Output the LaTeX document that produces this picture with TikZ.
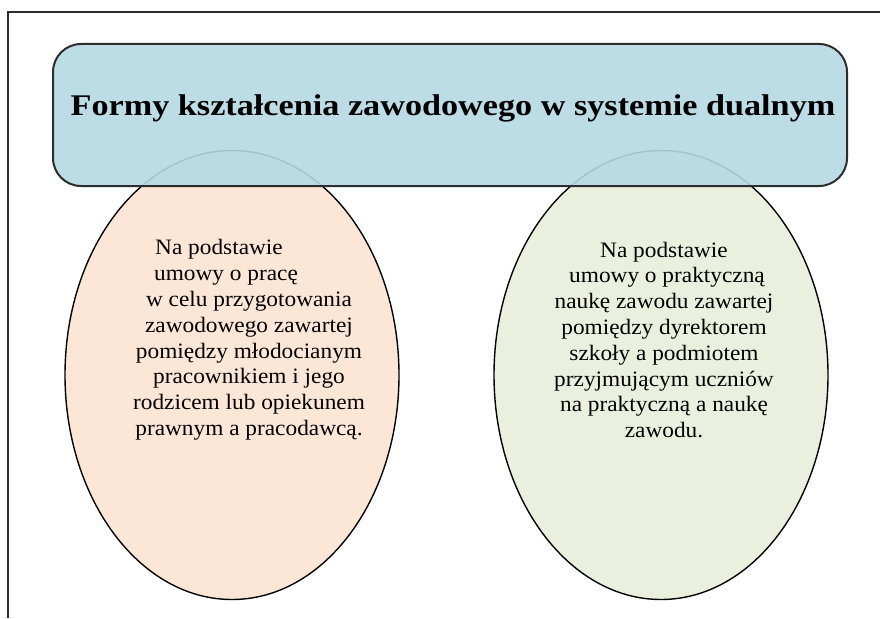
\documentclass[tikz,border=0pt]{standalone}
\usepackage{fontspec}
\setmainfont{Liberation Serif}
\newfontfamily\titlefont[FakeStretch=1.14]{Liberation Serif}
\newfontfamily\bodyfont[FakeStretch=1.06]{Liberation Serif}
\usetikzlibrary{shapes.geometric}
\definecolor{framecol}{RGB}{45,45,45}
\definecolor{titlefill}{RGB}{181,217,227}
\definecolor{peach}{RGB}{252,230,214}
\definecolor{sage}{RGB}{235,240,222}
\tikzset{
  oval/.style={draw=black, line width=1.4pt, ellipse, inner sep=0pt,
    minimum width=334pt, minimum height=449pt},
  banner/.style={draw=framecol, line width=2pt, rounded corners=28pt,
    fill=titlefill, fill opacity=0.9, inner sep=0pt,
    minimum width=794pt, minimum height=142pt},
  bodytext/.style={align=center, font=\bodyfont\fontsize{22pt}{25.8pt}\selectfont, inner sep=0pt},
  titletext/.style={font=\titlefont\bfseries\fontsize{30pt}{34pt}\selectfont, inner sep=0pt}
}
\begin{document}
\begin{tikzpicture}[x=1pt,y=-1pt]
\useasboundingbox (0,0) rectangle (880,618);
\draw[line width=2pt, framecol] (880,12) -- (8,12) -- (8,618);
\node[oval, fill=peach] (left) at (232,375) {};
\node[oval, fill=sage] (right) at (661,375) {};
\node[banner] (banner) at (450,115) {};
\node[titletext] (title) at (453,108) {Formy kształcenia zawodowego w systemie dualnym};
\node[bodytext] (lefttext) at (249,340) {\hspace*{-60pt}Na podstawie\\ \hspace*{-46pt}umowy o pracę\\ w celu przygotowania\\ zawodowego zawartej\\ pomiędzy młodocianym\\ pracownikiem i jego\\ rodzicem lub opiekunem\\ prawnym a pracodawcą.};
\node[bodytext] (righttext) at (664,340) {Na podstawie\\ \hspace*{6pt}umowy o praktyczną\\ naukę zawodu zawartej\\ pomiędzy dyrektorem\\ szkoły a podmiotem\\ przyjmującym uczniów\\ na praktyczną a naukę\\ zawodu.};
\end{tikzpicture}
\end{document}
